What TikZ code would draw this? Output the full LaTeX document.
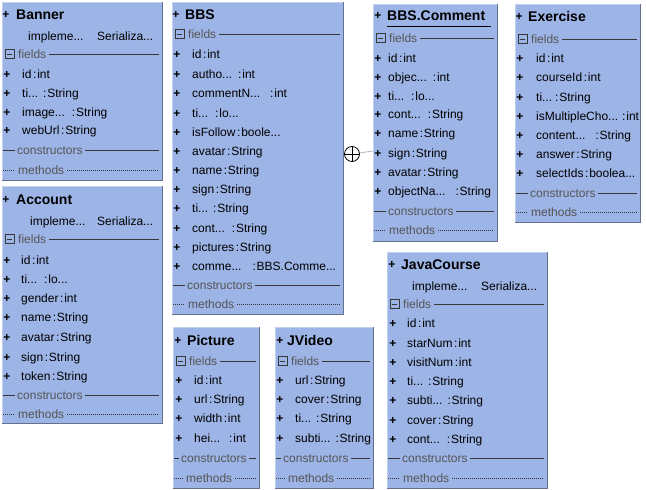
\documentclass[tikz,border=0pt]{standalone}
\usepackage{fontspec}
\setmainfont{Liberation Sans}
\definecolor{boxfill}{RGB}{157,180,230}
\definecolor{edgedark}{RGB}{100,112,140}
\definecolor{edgelight}{RGB}{195,208,240}
\definecolor{sectgray}{RGB}{85,85,85}
\definecolor{lineclr}{RGB}{55,55,55}
\definecolor{connclr}{RGB}{185,185,185}
\newcommand\umlf[2]{#1\hspace{1.6pt}:\hspace{0.8pt}#2}
\newcommand\umlt[3]{#1\hspace{#3pt}:\hspace{0.8pt}#2}
\tikzset{
 classbox/.style={draw=none, fill=boxfill, inner sep=0pt, anchor=north west, rectangle},
 edark/.style={draw=edgedark, line width=1.6pt},
 elight/.style={draw=edgelight, line width=0.8pt},
 plustxt/.style={font=\fontsize{12}{14}\selectfont\bfseries, inner sep=0pt, anchor=base, yshift=-4.3pt},
 fieldtxt/.style={font=\fontsize{12}{14}\selectfont, inner sep=0pt, anchor=base west, yshift=-4.3pt},
 titletxt/.style={font=\fontsize{14}{16}\selectfont\bfseries, inner sep=0pt, anchor=base west, yshift=-5pt},
 secttxt/.style={font=\fontsize{12}{14}\selectfont, text=sectgray, inner sep=0pt, anchor=base west, yshift=-4.3pt},
 sectline/.style={draw=lineclr, line width=0.8pt},
 dotline/.style={draw=lineclr, line width=0.8pt, dash pattern=on 1pt off 1pt},
 minusbox/.style={draw=lineclr, line width=0.8pt, minimum size=9pt, inner sep=0pt, rectangle},
}
\newcommand\umlbox[5]{%
 \node[classbox, minimum width=#4pt, minimum height=#5pt] (#1) at (#2,#3) {};
 \draw[elight] (#1.south west) -- (#1.north west) -- (#1.north east);
 \draw[edark] (#1.north east) -- (#1.south east) -- (#1.south west);}
\newcommand\umltitle[5]{%
 \node[plustxt] (#1-tp) at (#2,#4) {+};
 \node[titletxt] (#1-tt) at (#3,#4) {#5};}
\newcommand\umlimpl[4]{%
 \node[fieldtxt] (#1-im) at (#2,#4) {impleme...};
 \node[fieldtxt] (#1-se) at (#3,#4) {Serializa...};}
\newcommand\umlfields[4]{%
 \node[minusbox] (#1-mb) at (#2+7.5,#4) {};
 \draw[sectline] ([xshift=2pt]#1-mb.west) -- ([xshift=-2pt]#1-mb.east);
 \node[secttxt] (#1-fl) at (#2+16,#4) {fields};
 \coordinate (#1-fy) at (#3-3,#4);
 \draw[sectline] ([xshift=3pt]#1-fl.east |- #1-fy) -- (#1-fy);}
\newcommand\umlctor[5]{%
 \node[secttxt] (#1-ct) at (#2+#5,#4) {constructors};
 \coordinate (#1-cl) at (#2+1,#4);
 \coordinate (#1-cr) at (#3-3,#4);
 \draw[sectline] (#1-cl) -- ([xshift=-2pt]#1-ct.west |- #1-cl);
 \draw[sectline] ([xshift=2pt]#1-ct.east |- #1-cr) -- (#1-cr);}
\newcommand\umlmeth[5]{%
 \node[secttxt] (#1-mt) at (#2+#5,#4) {methods};
 \coordinate (#1-ml) at (#2+1,#4);
 \coordinate (#1-mr) at (#3-3,#4);
 \draw[dotline] (#1-ml) -- ([xshift=-3pt]#1-mt.west |- #1-ml);
 \draw[dotline] ([xshift=3pt]#1-mt.east |- #1-mr) -- (#1-mr);}
\newcommand\umlrows[4]{%
 \foreach \ry/\rt [count=\ri] in {#4} {
  \node[plustxt] (#1-p\ri) at (#2,\ry) {+};
  \node[fieldtxt] (#1-r\ri) at (#3,\ry) {\rt};
 }}
\begin{document}
\begin{tikzpicture}[x=1pt,y=-1pt]
\fill[white] (0,0) rectangle (646,490);
\useasboundingbox (0,0) rectangle (646,490);

% Banner
\umlbox{banner}{2}{2}{160}{178}
\umltitle{banner}{6}{16}{14}{Banner}
\umlimpl{banner}{28}{97}{36}
\umlfields{banner}{2}{162}{54}
\umlrows{banner}{7}{22}{74/\umlf{id}{int}, 93/\umlt{ti...}{String}{5}, 112/\umlt{image...}{String}{7}, 130/\umlf{webUrl}{String}}
\umlctor{banner}{2}{162}{150}{15}
\umlmeth{banner}{2}{162}{170}{16}

% Account
\umlbox{account}{2}{186}{160}{237}
\umltitle{account}{6}{16}{199}{Account}
\umlimpl{account}{30}{97}{221}
\umlfields{account}{2}{162}{239}
\umlrows{account}{7}{21}{260/\umlf{id}{int}, 279/\umlt{ti...}{lo...}{7}, 298/\umlf{gender}{int}, 317/\umlf{name}{String}, 337/\umlf{avatar}{String}, 357/\umlf{sign}{String}, 376/\umlf{token}{String}}
\umlctor{account}{2}{162}{395}{15}
\umlmeth{account}{2}{162}{414}{16}

% BBS
\umlbox{bbs}{172}{2}{171}{312}
\umltitle{bbs}{176}{185}{14}{BBS}
\umlfields{bbs}{172}{343}{34}
\umlrows{bbs}{177}{192}{54/\umlf{id}{int}, 74/\umlt{autho...}{int}{6}, 93/\umlt{commentN...}{int}{10}, 113/\umlt{ti...}{lo...}{7}, 132/\umlf{isFollow}{boole...}, 151/\umlf{avatar}{String}, 170/\umlf{name}{String}, 189/\umlf{sign}{String}, 208/\umlt{ti...}{String}{5}, 228/\umlt{cont...}{String}{7}, 247/\umlf{pictures}{String}, 266/\umlt{comme...}{BBS.Comme...}{11}}
\umlctor{bbs}{172}{343}{285}{15}
\umlmeth{bbs}{172}{343}{304}{16}

% BBS.Comment
\umlbox{comment}{373}{4}{124}{237}
\umltitle{comment}{378}{387}{15}{BBS.Comment}
\coordinate (cu1) at (387,26);
\coordinate (cu2) at (491,26);
\draw[line width=1pt] (cu1) -- (cu2);
\umlfields{comment}{373}{497}{38}
\umlrows{comment}{378}{388}{58/\umlf{id}{int}, 77/\umlt{objec...}{int}{6}, 96/\umlt{ti...}{lo...}{7}, 114/\umlt{cont...}{String}{7}, 133/\umlf{name}{String}, 153/\umlf{sign}{String}, 172/\umlf{avatar}{String}, 191/\umlt{objectNa...}{String}{10}}
\umlctor{comment}{373}{497}{211}{15}
\umlmeth{comment}{373}{497}{230}{16}

% Exercise
\umlbox{exercise}{515}{4}{125}{218}
\umltitle{exercise}{519}{528}{16}{Exercise}
\umlfields{exercise}{515}{640}{39}
\umlrows{exercise}{520}{536}{58/\umlf{id}{int}, 77/\umlf{courseId}{int}, 97/\umlt{ti...}{String}{3}, 116/\umlt{isMultipleCho...}{int}{4}, 135/\umlt{content...}{String}{10}, 154/\umlf{answer}{String}, 173/\umlf{selectIds}{boolea...}}
\umlctor{exercise}{515}{640}{193}{15}
\umlmeth{exercise}{515}{640}{212}{16}

% Picture
\umlbox{picture}{173}{327}{86}{161}
\umltitle{picture}{178}{187}{340}{Picture}
\umlfields{picture}{173}{259}{361}
\umlrows{picture}{179}{194}{380/\umlf{id}{int}, 399/\umlf{url}{String}, 418/\umlf{width}{int}, 438/\umlt{hei...}{int}{9}}
\umlctor{picture}{173}{259}{458}{8}
\umlmeth{picture}{173}{259}{478}{13}

% JVideo
\umlbox{jvideo}{275}{327}{98}{161}
\umltitle{jvideo}{280}{287}{340}{JVideo}
\umlfields{jvideo}{275}{373}{361}
\umlrows{jvideo}{280}{295}{380/\umlf{url}{String}, 399/\umlf{cover}{String}, 418/\umlt{ti...}{String}{5}, 438/\umlt{subti...}{String}{5}}
\umlctor{jvideo}{275}{373}{458}{8}
\umlmeth{jvideo}{275}{373}{478}{13}

% JavaCourse
\umlbox{javacourse}{387}{252}{160}{236}
\umltitle{javacourse}{392}{401}{264}{JavaCourse}
\umlimpl{javacourse}{412}{481}{286}
\umlfields{javacourse}{387}{547}{304}
\umlrows{javacourse}{393}{407}{323/\umlf{id}{int}, 343/\umlf{starNum}{int}, 362/\umlf{visitNum}{int}, 381/\umlt{ti...}{String}{5}, 400/\umlt{subti...}{String}{5}, 420/\umlf{cover}{String}, 439/\umlt{cont...}{String}{7}}
\umlctor{javacourse}{387}{547}{458}{15}
\umlmeth{javacourse}{387}{547}{478}{16}

% nesting connector
\node[circle, draw=black, line width=0.8pt, minimum size=15pt, inner sep=0pt] (nest) at (352,154) {};
\draw[line width=0.8pt] (nest.north) -- (nest.south);
\draw[line width=0.8pt] (nest.west) -- (nest.east);
\coordinate (nestend) at (373,151);
\draw[connclr, line width=0.8pt] (nest) -- (nestend);
\end{tikzpicture}
\end{document}
